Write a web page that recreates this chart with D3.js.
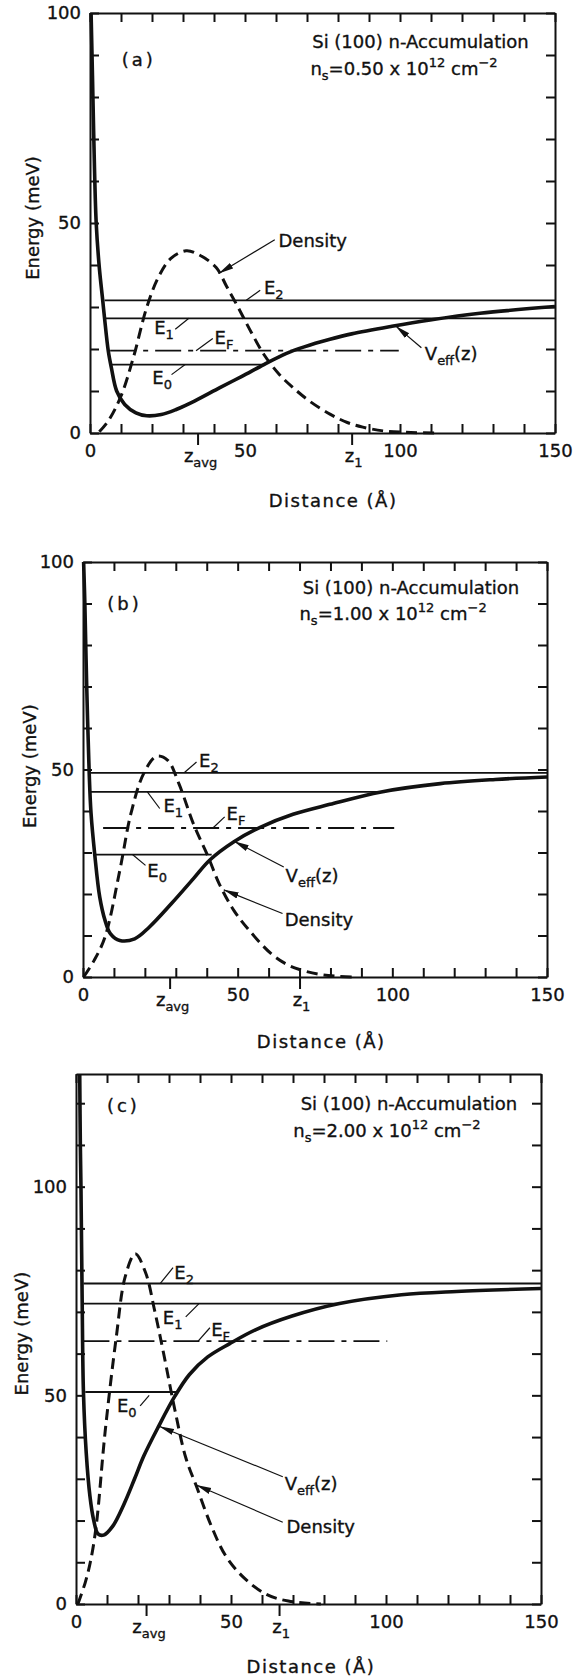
<!DOCTYPE html>
<html>
<head>
<meta charset="utf-8">
<script src="https://cdn.jsdelivr.net/npm/d3@7"></script>
<style>
  body { margin: 0; background: #ffffff; }
  #canvas text { font-family: "DejaVu Sans", sans-serif; fill: #111; stroke: #111; stroke-width: 0.35px; }
</style>
</head>
<body>
<div id="canvas"></div>
<script>
"use strict"

/* Si(100) n-accumulation layer: effective potential Veff(z), subband
   levels E0, E1, E2, Fermi level EF and electron density, for three
   sheet densities stacked as panels (a), (b), (c). */

/* Axis tick labels */
let distanceTicks = [0, 50, 100, 150];
let energyTicks = [0, 50, 100];

/* Panel captions */
let panelLetters = ["(a)", "(b)", "(c)"];
let sheetDensities = ["0.50", "1.00", "2.00"];

/* Levels, always in the order E0, E1, EF, E2 (meV) */
let levelSubscripts = ["0", "1", "F", "2"];
let levelsA = [16.3, 27.3, 19.6, 31.6];
let levelsB = [29.5, 44.6, 35.9, 49.2];
let levelsC = [50.8, 72.0, 63.0, 76.8];

/* Distance range (Å) each level line covers */
let levelFromA = [7.0, 4.7, 6.5, 4.7];
let levelToA = [56.3, 150, 99.6, 150];
let levelFromB = [3.3, 2.1, 6.5, 2.1];
let levelToB = [41.6, 97.0, 100.6, 150];
let levelFromC = [3.0, 2.4, 2.4, 2.4];
let levelToC = [32.3, 85.0, 100.4, 150];

/* Marked distances on the x axis (Å) */
let zAvgValues = [34.7, 28.0, 22.6];
let z1Values = [84.4, 70.0, 65.5];

/* Effective potential Veff(z): [distance Å, energy meV] */
let vEffA = [[0.35, 100], [0.8, 85], [1.2, 71], [2.0, 50], [3.0, 39.4], [4.1, 31.6],
  [4.7, 27.3], [5.9, 19.5], [6.9, 15.5], [8.6, 10], [11.2, 6.8], [14.8, 4.8],
  [18.3, 4.1], [23, 4.4], [27.8, 5.6], [33.7, 7.6], [41.9, 10.8], [49, 13.5],
  [56.1, 16.3], [63.2, 18.9], [69.1, 20.5], [77.4, 22.3], [84.4, 23.6],
  [97.4, 25.4], [109.7, 26.9], [125.8, 28.5], [150, 30.1]];
let vEffB = [[0.2, 100], [0.6, 90], [1.2, 70], [2.0, 49.2], [2.6, 39.4], [3.8, 29.5],
  [5.4, 19.3], [7.1, 13.7], [8.9, 10.4], [11.9, 8.8], [16.7, 9.2], [21.4, 12],
  [28.6, 17.7], [35.7, 23.7], [41, 28.2], [48.8, 32.6], [57.1, 36], [67.9, 39.2],
  [79.8, 41.6], [96.4, 44.6], [115.5, 46.6], [133.3, 47.6], [150, 48.2]];
let vEffC = [[1.2, 127], [1.4, 110], [1.6, 100], [2.0, 72], [2.4, 50.8], [3.3, 36.2],
  [4.5, 25.8], [5.7, 20.1], [7.1, 16.8], [8.9, 16.5], [11.8, 18.6], [15.4, 23.8],
  [18.9, 30], [21.9, 35.5], [26.6, 42.5], [31.9, 49.8], [36.6, 55], [42.5, 59.2],
  [49.6, 62.4], [57.9, 65.7], [69.7, 69], [85, 72], [105, 74.1], [122.8, 74.9],
  [150, 75.6]];

/* Electron density (arbitrary units drawn on the energy scale) */
let densityA = [[3, 0.3], [6, 3], [10, 8.8], [14, 18], [18.3, 29.9], [22, 37],
  [26, 41.5], [31, 43.4], [35, 42.5], [40.7, 39.4], [44, 35], [47.8, 29.9],
  [52, 24], [56.1, 18.7], [61, 14], [65.5, 10.8], [71, 7.5], [77.4, 4.5],
  [83, 2.5], [88, 1.4], [94.6, 0.5], [102, 0.15], [112, 0]];
let densityB = [[0.2, 0], [3.6, 4], [7.1, 9.6], [11.9, 25.7], [15.5, 39.4], [19.6, 49],
  [23.8, 53.2], [27.4, 52.2], [31, 46.6], [35.7, 36.9], [40.5, 28.9], [44, 22.5],
  [48.8, 16], [54, 11], [61, 5.5], [66, 3], [70, 1.8], [76, 0.7], [82, 0.2], [88, 0]];
let densityC = [[0.6, 0], [3, 5.2], [4.7, 10.3], [6.5, 18.6], [9.4, 41.3], [13, 64],
  [15.9, 78.5], [19.1, 83.9], [22.4, 79.5], [25.4, 70.2], [28.3, 59.9], [31.9, 46.5],
  [35.4, 35.1], [39, 27.9], [43.7, 18.6], [48.4, 11.4], [54.3, 6.2], [61.4, 2.3],
  [68.5, 0.7], [79, 0]];

/* Where the annotations sit, in data units of each panel
   (title and ns are given by their right end) */
let annotA = {
  letter: [15.7, 87.3], title: [141.5, 91.6], ns: [131.5, 85.3],
  levelText: [[20.1, 11.6], [20.7, 23.5], [40.2, 21.1], [56.1, 33.1]],
  levelLead: [[[30.7, 16.3], [26.3, 13.9]], [[31.9, 27.3], [27.5, 24.7]],
    [[39.6, 22.5], [34.2, 19.6]], [[54.9, 34], [50.4, 31.6]]],
  vEffText: [108, 17.5], vEffLead: [[106.9, 20.3], [98.6, 25.5]],
  densityText: [60.8, 44.2], densityLead: [[59.6, 46], [41.5, 38]],
  energyY: 51.2, distanceX: 78.4
};
let annotB = {
  letter: [13.4, 88.4], title: [141, 92.4], ns: [130.5, 86],
  levelText: [[20.8, 24.1], [26, 39.8], [46.4, 37.8], [37.5, 50.6]],
  levelLead: [[[20.2, 26.9], [16, 29.5]], [[24.8, 40.6], [20.8, 44.6]],
    [[45.8, 38.6], [42, 35.9]], [[36.7, 51.8], [32.7, 49.2]]],
  vEffText: [65.5, 22.9], vEffLead: [[64.9, 26.5], [48.8, 32.7]],
  densityText: [65.2, 12.4], densityLead: [[64.5, 15.3], [45.5, 21]],
  energyY: 50.8, distanceX: 77
};
let annotC = {
  letter: [15.3, 117.8], title: [142.3, 118.3], ns: [130.5, 111.8],
  levelText: [[13.2, 46], [28, 67.1], [43.6, 64.2], [31.7, 77.9]],
  levelLead: [[[23.6, 50], [20.7, 47.5]], [[39.6, 71.9], [35.4, 68.8]],
    [[43.2, 66.2], [39.4, 63]], [[31.3, 80.6], [27.2, 76.8]]],
  vEffText: [67.3, 27.4], vEffLead: [[66.7, 30.5], [26.8, 42.6]],
  densityText: [67.9, 17], densityLead: [[66.7, 19.6], [38.8, 28.5]],
  energyY: 64.8, distanceX: 75.8
};

/* Panel frames on the page (pixels) */
let panels = [
  { left: 90, right: 555, top: 13, bottom: 433, yMax: 100, energyX: 39, distanceBase: 507,
    levels: levelsA, from: levelFromA, to: levelToA, vEff: vEffA, density: densityA, annot: annotA },
  { left: 83, right: 547, top: 562, bottom: 977, yMax: 100, energyX: 36, distanceBase: 1048,
    levels: levelsB, from: levelFromB, to: levelToB, vEff: vEffB, density: densityB, annot: annotB },
  { left: 76, right: 541, top: 1074, bottom: 1604, yMax: 127, energyX: 28, distanceBase: 1673,
    levels: levelsC, from: levelFromC, to: levelToC, vEff: vEffC, density: densityC, annot: annotC }
];

let svg = d3.select("#canvas")
  .append("svg")
  .attr("width", 574)
  .attr("height", 1677);

svg.append("rect")
  .attr("width", 574)
  .attr("height", 1677)
  .attr("fill", "#ffffff");

// Narrow filled arrowhead for the Veff and Density leaders
svg.append("defs").append("marker")
  .attr("id", "arrow")
  .attr("markerUnits", "userSpaceOnUse")
  .attr("markerWidth", 16)
  .attr("markerHeight", 8)
  .attr("refX", 15)
  .attr("refY", 4)
  .attr("orient", "auto")
  .append("path")
  .attr("d", "M0,0.8 L15,4 L0,7.2 Z")
  .attr("fill", "#111");

/* Text with sub/superscript pieces: parts = [[text, "n"|"sub"|"sup"], ...] */
function richText(g, x, y, parts, anchor, size) {
  let t = g.append("text")
    .attr("x", x)
    .attr("y", y)
    .attr("text-anchor", anchor)
    .style("font-size", size + "px");
  let shift = 0;
  parts.forEach(function (p) {
    let target = 0;
    if (p[1] === "sub") target = 5;
    if (p[1] === "sup") target = -8;
    t.append("tspan")
      .attr("dy", target - shift)
      .style("font-size", (p[1] === "n" ? size : Math.round(size * 0.7)) + "px")
      .text(p[0]);
    shift = target;
  });
  return t;
}

function drawPanel(p, i) {
  let x = d3.scaleLinear().domain([0, 150]).range([p.left, p.right]);
  let y = d3.scaleLinear().domain([0, p.yMax]).range([p.bottom, p.top]);
  let g = svg.append("g");
  let a = p.annot;

  let minorX = d3.range(0, 151, 10);
  let minorY = d3.range(0, p.yMax + 0.1, 10);

  // Frame: four axes with short ticks pointing inward
  let frame = [
    [d3.axisBottom(x).tickValues(minorX), "translate(0," + p.bottom + ")"],
    [d3.axisTop(x).tickValues(minorX), "translate(0," + p.top + ")"],
    [d3.axisLeft(y).tickValues(minorY), "translate(" + p.left + ",0)"],
    [d3.axisRight(y).tickValues(minorY), "translate(" + p.right + ",0)"]
  ];
  frame.forEach(function (f) {
    let ax = g.append("g")
      .attr("transform", f[1])
      .call(f[0].tickSizeInner(-9).tickSizeOuter(0).tickFormat(""));
    ax.select(".domain").attr("stroke", "#111").attr("stroke-width", 2);
    ax.selectAll(".tick line").attr("stroke", "#111").attr("stroke-width", 2);
  });

  // z_avg and z1 marks below the axis
  let zAxis = g.append("g")
    .attr("transform", "translate(0," + p.bottom + ")")
    .call(d3.axisBottom(x).tickValues([zAvgValues[i], z1Values[i]])
      .tickSizeInner(12).tickSizeOuter(0).tickFormat(""));
  zAxis.select(".domain").remove();
  zAxis.selectAll(".tick line").attr("stroke", "#111").attr("stroke-width", 2);

  // Numbers on the axes
  let xLabels = g.append("g")
    .attr("transform", "translate(0," + p.bottom + ")")
    .call(d3.axisBottom(x).tickValues(distanceTicks).tickSize(0).tickPadding(11));
  xLabels.select(".domain").remove();
  let yLabels = g.append("g")
    .attr("transform", "translate(" + p.left + ",0)")
    .call(d3.axisLeft(y).tickValues(energyTicks).tickSize(0).tickPadding(9));
  yLabels.select(".domain").remove();
  [xLabels, yLabels].forEach(function (ax) {
    ax.attr("font-family", null).attr("font-size", null);
    ax.selectAll("text").style("font-size", "18px").attr("fill", "#111");
  });

  richText(g, x(zAvgValues[i]) + 3, p.bottom + 29, [["z", "n"], ["avg", "sub"]], "middle", 18);
  richText(g, x(z1Values[i]) + 2, p.bottom + 29, [["z", "n"], ["1", "sub"]], "middle", 18);

  // Axis titles
  g.append("text")
    .attr("transform", "translate(" + p.energyX + "," + y(a.energyY) + ") rotate(-90)")
    .attr("text-anchor", "middle")
    .style("font-size", "18px")
    .text("Energy (meV)");
  g.append("text")
    .attr("x", x(a.distanceX))
    .attr("y", p.distanceBase)
    .attr("text-anchor", "middle")
    .style("font-size", "18px")
    .style("letter-spacing", "1.5px")
    .text("Distance (Å)");

  // Captions
  g.append("text")
    .attr("x", x(a.letter[0]))
    .attr("y", y(a.letter[1]))
    .attr("text-anchor", "middle")
    .style("font-size", "18px")
    .style("letter-spacing", "3px")
    .text(panelLetters[i]);
  g.append("text")
    .attr("x", x(a.title[0]))
    .attr("y", y(a.title[1]))
    .attr("text-anchor", "end")
    .style("font-size", "18px")
    .text("Si (100) n-Accumulation");
  richText(g, x(a.ns[0]), y(a.ns[1]),
    [["n", "n"], ["s", "sub"], ["=" + sheetDensities[i] + " x 10", "n"], ["12", "sup"],
      [" cm", "n"], ["\u22122", "sup"]], "end", 18);

  // Level lines
  p.levels.forEach(function (e, k) {
    g.append("line")
      .attr("x1", x(p.from[k]))
      .attr("x2", x(p.to[k]))
      .attr("y1", y(e))
      .attr("y2", y(e))
      .attr("stroke", "#111")
      .attr("stroke-width", 1.8)
      .attr("stroke-dasharray", levelSubscripts[k] === "F" ? "26,7,5,7" : null);
  });

  let line = d3.line()
    .x(function (d) { return x(d[0]); })
    .y(function (d) { return y(d[1]); })
    .curve(d3.curveCatmullRom.alpha(0.5));

  g.append("path")
    .attr("d", line(p.density))
    .attr("fill", "none")
    .attr("stroke", "#111")
    .attr("stroke-width", 3)
    .attr("stroke-dasharray", "11,6");

  g.append("path")
    .attr("d", line(p.vEff))
    .attr("fill", "none")
    .attr("stroke", "#111")
    .attr("stroke-width", 3.6)
    .attr("stroke-linejoin", "round");

  // Level labels with their short leaders
  levelSubscripts.forEach(function (s, k) {
    richText(g, x(a.levelText[k][0]), y(a.levelText[k][1]), [["E", "n"], [s, "sub"]], "start", 18);
    let ld = a.levelLead[k];
    g.append("line")
      .attr("x1", x(ld[0][0])).attr("y1", y(ld[0][1]))
      .attr("x2", x(ld[1][0])).attr("y2", y(ld[1][1]))
      .attr("stroke", "#111")
      .attr("stroke-width", 1.2);
  });

  // Veff and Density labels with arrows
  richText(g, x(a.vEffText[0]), y(a.vEffText[1]), [["V", "n"], ["eff", "sub"], ["(z)", "n"]], "start", 18);
  g.append("text")
    .attr("x", x(a.densityText[0]))
    .attr("y", y(a.densityText[1]))
    .style("font-size", "18px")
    .text("Density");
  [a.vEffLead, a.densityLead].forEach(function (ld) {
    g.append("line")
      .attr("x1", x(ld[0][0])).attr("y1", y(ld[0][1]))
      .attr("x2", x(ld[1][0])).attr("y2", y(ld[1][1]))
      .attr("stroke", "#111")
      .attr("stroke-width", 1.2)
      .attr("marker-end", "url(#arrow)");
  });
}

panels.forEach(drawPanel);
</script>
</body>
</html>
